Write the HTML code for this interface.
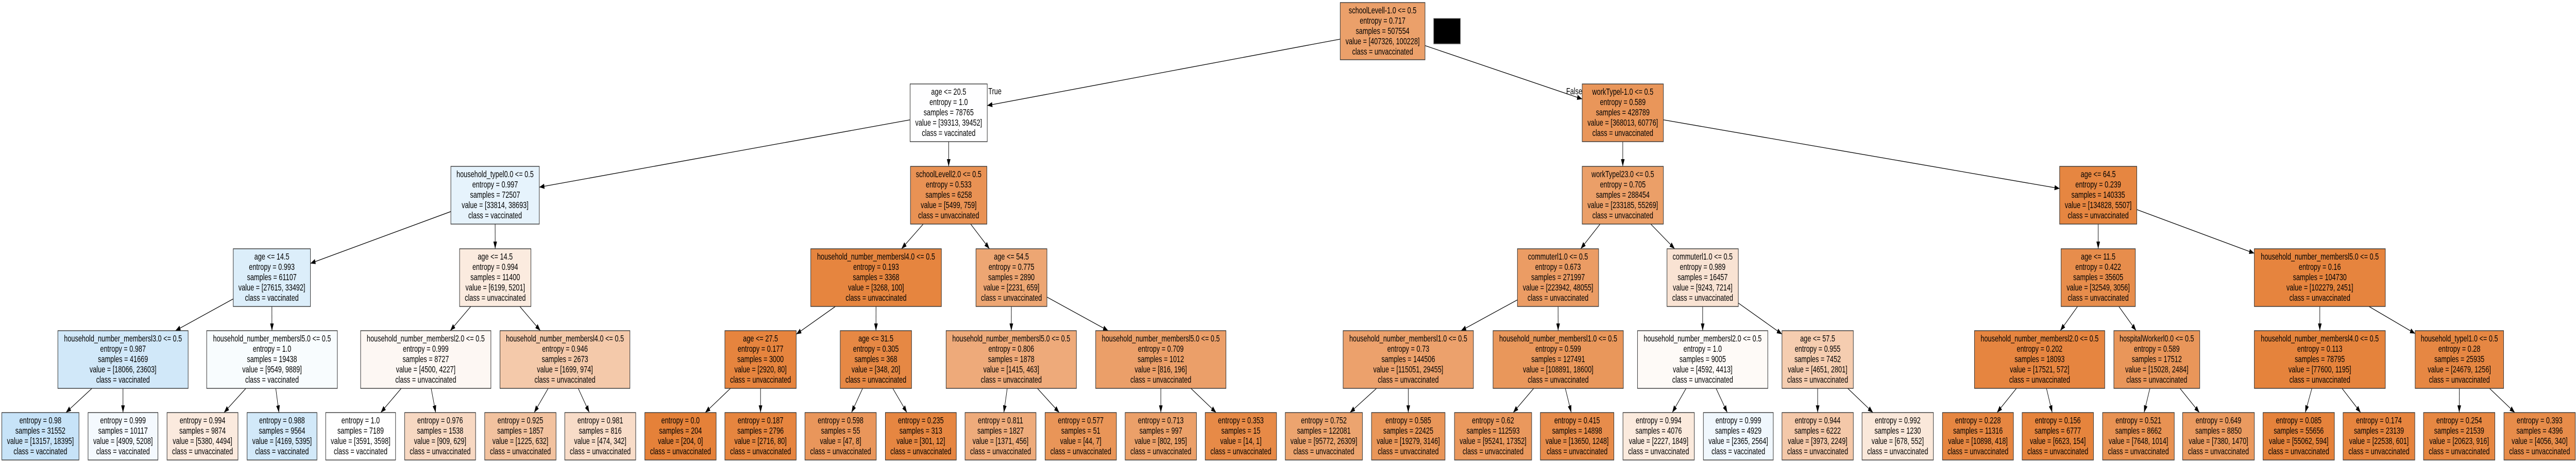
<!DOCTYPE html>
<html><head><meta charset="utf-8">
<style>
html,body{margin:0;padding:0;background:#fff;overflow:hidden;width:100%;height:100%;}
svg{display:block;width:100vw;height:100vh;}
rect{stroke:#333;stroke-width:1.4;}
text{font-family:"Liberation Sans",Arial,sans-serif;font-size:18px;fill:#000;text-anchor:middle;}
line{stroke:#000;stroke-width:1.3;}
</style></head>
<body>
<svg id="s" viewBox="0 0 7079 895" preserveAspectRatio="none" xmlns="http://www.w3.org/2000/svg">
<defs><marker id="ar" markerUnits="userSpaceOnUse" markerWidth="14" markerHeight="10" refX="14" refY="5" orient="auto"><path d="M0,0 L14,5 L0,10 z" fill="#000"/></marker></defs>
<g id="edges"></g>
<rect x="3940" y="36" width="73" height="49" fill="#000" style="stroke:#555"/>
<text x="2734" y="183">True</text>
<text x="4326" y="183">False</text>

<rect id="a" x="3683" y="5" width="233" height="111" fill="#eba06a"/>
<text x="3799.5" y="26"><tspan x="3799.5">schoolLevell-1.0 &lt;= 0.5</tspan><tspan x="3799.5" dy="20">entropy = 0.717</tspan><tspan x="3799.5" dy="20">samples = 507554</tspan><tspan x="3799.5" dy="20">value = [407326, 100228]</tspan><tspan x="3799.5" dy="20">class = unvaccinated</tspan></text>

<rect id="b" x="2501" y="163" width="212" height="112" fill="#fefeff"/>
<text x="2607" y="184"><tspan x="2607">age &lt;= 20.5</tspan><tspan x="2607" dy="20">entropy = 1.0</tspan><tspan x="2607" dy="20">samples = 78765</tspan><tspan x="2607" dy="20">value = [39313, 39452]</tspan><tspan x="2607" dy="20">class = vaccinated</tspan></text>
<rect id="c" x="4348" y="163" width="223" height="112" fill="#e9965a"/>
<text x="4459.5" y="184"><tspan x="4459.5">workTypel-1.0 &lt;= 0.5</tspan><tspan x="4459.5" dy="20">entropy = 0.589</tspan><tspan x="4459.5" dy="20">samples = 428789</tspan><tspan x="4459.5" dy="20">value = [368013, 60776]</tspan><tspan x="4459.5" dy="20">class = unvaccinated</tspan></text>

<rect id="d" x="1239" y="323" width="243" height="112" fill="#e6f3fc"/>
<text x="1360.5" y="344"><tspan x="1360.5">household_typel0.0 &lt;= 0.5</tspan><tspan x="1360.5" dy="20">entropy = 0.997</tspan><tspan x="1360.5" dy="20">samples = 72507</tspan><tspan x="1360.5" dy="20">value = [33814, 38693]</tspan><tspan x="1360.5" dy="20">class = vaccinated</tspan></text>
<rect id="e" x="2502" y="323" width="210" height="112" fill="#e99254"/>
<text x="2607" y="344"><tspan x="2607">schoolLevell2.0 &lt;= 0.5</tspan><tspan x="2607" dy="20">entropy = 0.533</tspan><tspan x="2607" dy="20">samples = 6258</tspan><tspan x="2607" dy="20">value = [5499, 759]</tspan><tspan x="2607" dy="20">class = unvaccinated</tspan></text>
<rect id="f" x="4348" y="323" width="223" height="112" fill="#eb9f68"/>
<text x="4459.5" y="344"><tspan x="4459.5">workTypel23.0 &lt;= 0.5</tspan><tspan x="4459.5" dy="20">entropy = 0.705</tspan><tspan x="4459.5" dy="20">samples = 288454</tspan><tspan x="4459.5" dy="20">value = [233185, 55269]</tspan><tspan x="4459.5" dy="20">class = unvaccinated</tspan></text>
<rect id="g" x="5660" y="323" width="212" height="112" fill="#e68641"/>
<text x="5766" y="344"><tspan x="5766">age &lt;= 64.5</tspan><tspan x="5766" dy="20">entropy = 0.239</tspan><tspan x="5766" dy="20">samples = 140335</tspan><tspan x="5766" dy="20">value = [134828, 5507]</tspan><tspan x="5766" dy="20">class = unvaccinated</tspan></text>

<rect id="h" x="641" y="483" width="212" height="112" fill="#dceefa"/>
<text x="747" y="504"><tspan x="747">age &lt;= 14.5</tspan><tspan x="747" dy="20">entropy = 0.993</tspan><tspan x="747" dy="20">samples = 61107</tspan><tspan x="747" dy="20">value = [27615, 33492]</tspan><tspan x="747" dy="20">class = vaccinated</tspan></text>
<rect id="i" x="1263" y="483" width="196" height="112" fill="#fbebdf"/>
<text x="1361" y="504"><tspan x="1361">age &lt;= 14.5</tspan><tspan x="1361" dy="20">entropy = 0.994</tspan><tspan x="1361" dy="20">samples = 11400</tspan><tspan x="1361" dy="20">value = [6199, 5201]</tspan><tspan x="1361" dy="20">class = unvaccinated</tspan></text>
<rect id="j" x="2228" y="483" width="359" height="112" fill="#e6853f"/>
<text x="2407.5" y="504"><tspan x="2407.5">household_number_membersl4.0 &lt;= 0.5</tspan><tspan x="2407.5" dy="20">entropy = 0.193</tspan><tspan x="2407.5" dy="20">samples = 3368</tspan><tspan x="2407.5" dy="20">value = [3268, 100]</tspan><tspan x="2407.5" dy="20">class = unvaccinated</tspan></text>
<rect id="k" x="2682" y="483" width="195" height="112" fill="#eda673"/>
<text x="2779.5" y="504"><tspan x="2779.5">age &lt;= 54.5</tspan><tspan x="2779.5" dy="20">entropy = 0.775</tspan><tspan x="2779.5" dy="20">samples = 2890</tspan><tspan x="2779.5" dy="20">value = [2231, 659]</tspan><tspan x="2779.5" dy="20">class = unvaccinated</tspan></text>
<rect id="l" x="4170" y="483" width="223" height="112" fill="#eb9c64"/>
<text x="4281.5" y="504"><tspan x="4281.5">commuterl1.0 &lt;= 0.5</tspan><tspan x="4281.5" dy="20">entropy = 0.673</tspan><tspan x="4281.5" dy="20">samples = 271997</tspan><tspan x="4281.5" dy="20">value = [223942, 48055]</tspan><tspan x="4281.5" dy="20">class = unvaccinated</tspan></text>
<rect id="m" x="4581" y="483" width="196" height="112" fill="#f9e3d3"/>
<text x="4679" y="504"><tspan x="4679">commuterl1.0 &lt;= 0.5</tspan><tspan x="4679" dy="20">entropy = 0.989</tspan><tspan x="4679" dy="20">samples = 16457</tspan><tspan x="4679" dy="20">value = [9243, 7214]</tspan><tspan x="4679" dy="20">class = unvaccinated</tspan></text>
<rect id="n" x="5664" y="483" width="204" height="112" fill="#e78d4c"/>
<text x="5766" y="504"><tspan x="5766">age &lt;= 11.5</tspan><tspan x="5766" dy="20">entropy = 0.422</tspan><tspan x="5766" dy="20">samples = 35605</tspan><tspan x="5766" dy="20">value = [32549, 3056]</tspan><tspan x="5766" dy="20">class = unvaccinated</tspan></text>
<rect id="o" x="6195" y="483" width="360" height="112" fill="#e6843e"/>
<text x="6375" y="504"><tspan x="6375">household_number_membersl5.0 &lt;= 0.5</tspan><tspan x="6375" dy="20">entropy = 0.16</tspan><tspan x="6375" dy="20">samples = 104730</tspan><tspan x="6375" dy="20">value = [102279, 2451]</tspan><tspan x="6375" dy="20">class = unvaccinated</tspan></text>

<rect id="p1" x="159" y="642" width="358" height="112" fill="#d1e8f9"/>
<text x="338" y="663"><tspan x="338">household_number_membersl3.0 &lt;= 0.5</tspan><tspan x="338" dy="20">entropy = 0.987</tspan><tspan x="338" dy="20">samples = 41669</tspan><tspan x="338" dy="20">value = [18066, 23603]</tspan><tspan x="338" dy="20">class = vaccinated</tspan></text>
<rect id="p2" x="568" y="642" width="359" height="112" fill="#f8fcfe"/>
<text x="747.5" y="663"><tspan x="747.5">household_number_membersl5.0 &lt;= 0.5</tspan><tspan x="747.5" dy="20">entropy = 1.0</tspan><tspan x="747.5" dy="20">samples = 19438</tspan><tspan x="747.5" dy="20">value = [9549, 9889]</tspan><tspan x="747.5" dy="20">class = vaccinated</tspan></text>
<rect id="p3" x="991" y="642" width="358" height="112" fill="#fdf7f3"/>
<text x="1170" y="663"><tspan x="1170">household_number_membersl2.0 &lt;= 0.5</tspan><tspan x="1170" dy="20">entropy = 0.999</tspan><tspan x="1170" dy="20">samples = 8727</tspan><tspan x="1170" dy="20">value = [4500, 4227]</tspan><tspan x="1170" dy="20">class = unvaccinated</tspan></text>
<rect id="p4" x="1374" y="642" width="357" height="112" fill="#f4c9aa"/>
<text x="1552.5" y="663"><tspan x="1552.5">household_number_membersl4.0 &lt;= 0.5</tspan><tspan x="1552.5" dy="20">entropy = 0.946</tspan><tspan x="1552.5" dy="20">samples = 2673</tspan><tspan x="1552.5" dy="20">value = [1699, 974]</tspan><tspan x="1552.5" dy="20">class = unvaccinated</tspan></text>
<rect id="p5" x="1992" y="642" width="196" height="112" fill="#e6843e"/>
<text x="2090" y="663"><tspan x="2090">age &lt;= 27.5</tspan><tspan x="2090" dy="20">entropy = 0.177</tspan><tspan x="2090" dy="20">samples = 3000</tspan><tspan x="2090" dy="20">value = [2920, 80]</tspan><tspan x="2090" dy="20">class = unvaccinated</tspan></text>
<rect id="p6" x="2309" y="642" width="196" height="112" fill="#e68844"/>
<text x="2407" y="663"><tspan x="2407">age &lt;= 31.5</tspan><tspan x="2407" dy="20">entropy = 0.305</tspan><tspan x="2407" dy="20">samples = 368</tspan><tspan x="2407" dy="20">value = [348, 20]</tspan><tspan x="2407" dy="20">class = unvaccinated</tspan></text>
<rect id="p7" x="2600" y="642" width="358" height="112" fill="#eeaa7a"/>
<text x="2779" y="663"><tspan x="2779">household_number_membersl5.0 &lt;= 0.5</tspan><tspan x="2779" dy="20">entropy = 0.806</tspan><tspan x="2779" dy="20">samples = 1878</tspan><tspan x="2779" dy="20">value = [1415, 463]</tspan><tspan x="2779" dy="20">class = unvaccinated</tspan></text>
<rect id="p8" x="3011" y="642" width="358" height="112" fill="#eb9f69"/>
<text x="3190" y="663"><tspan x="3190">household_number_membersl5.0 &lt;= 0.5</tspan><tspan x="3190" dy="20">entropy = 0.709</tspan><tspan x="3190" dy="20">samples = 1012</tspan><tspan x="3190" dy="20">value = [816, 196]</tspan><tspan x="3190" dy="20">class = unvaccinated</tspan></text>
<rect id="p9" x="3691" y="642" width="358" height="112" fill="#eca16c"/>
<text x="3870" y="663"><tspan x="3870">household_number_membersl1.0 &lt;= 0.5</tspan><tspan x="3870" dy="20">entropy = 0.73</tspan><tspan x="3870" dy="20">samples = 144506</tspan><tspan x="3870" dy="20">value = [115051, 29455]</tspan><tspan x="3870" dy="20">class = unvaccinated</tspan></text>
<rect id="p10" x="4103" y="642" width="358" height="112" fill="#e9975b"/>
<text x="4282" y="663"><tspan x="4282">household_number_membersl1.0 &lt;= 0.5</tspan><tspan x="4282" dy="20">entropy = 0.599</tspan><tspan x="4282" dy="20">samples = 127491</tspan><tspan x="4282" dy="20">value = [108891, 18600]</tspan><tspan x="4282" dy="20">class = unvaccinated</tspan></text>
<rect id="p11" x="4500" y="642" width="358" height="112" fill="#fefaf7"/>
<text x="4679" y="663"><tspan x="4679">household_number_membersl2.0 &lt;= 0.5</tspan><tspan x="4679" dy="20">entropy = 1.0</tspan><tspan x="4679" dy="20">samples = 9005</tspan><tspan x="4679" dy="20">value = [4592, 4413]</tspan><tspan x="4679" dy="20">class = unvaccinated</tspan></text>
<rect id="p12" x="4897" y="642" width="196" height="112" fill="#f5cdb0"/>
<text x="4995" y="663"><tspan x="4995">age &lt;= 57.5</tspan><tspan x="4995" dy="20">entropy = 0.955</tspan><tspan x="4995" dy="20">samples = 7452</tspan><tspan x="4995" dy="20">value = [4651, 2801]</tspan><tspan x="4995" dy="20">class = unvaccinated</tspan></text>
<rect id="p13" x="5426" y="642" width="358" height="112" fill="#e68540"/>
<text x="5605" y="663"><tspan x="5605">household_number_membersl2.0 &lt;= 0.5</tspan><tspan x="5605" dy="20">entropy = 0.202</tspan><tspan x="5605" dy="20">samples = 18093</tspan><tspan x="5605" dy="20">value = [17521, 572]</tspan><tspan x="5605" dy="20">class = unvaccinated</tspan></text>
<rect id="p14" x="5809" y="642" width="236" height="112" fill="#e9965a"/>
<text x="5927" y="663"><tspan x="5927">hospitalWorkerl0.0 &lt;= 0.5</tspan><tspan x="5927" dy="20">entropy = 0.589</tspan><tspan x="5927" dy="20">samples = 17512</tspan><tspan x="5927" dy="20">value = [15028, 2484]</tspan><tspan x="5927" dy="20">class = unvaccinated</tspan></text>
<rect id="p15" x="6195" y="642" width="360" height="112" fill="#e5833c"/>
<text x="6375" y="663"><tspan x="6375">household_number_membersl4.0 &lt;= 0.5</tspan><tspan x="6375" dy="20">entropy = 0.113</tspan><tspan x="6375" dy="20">samples = 78795</tspan><tspan x="6375" dy="20">value = [77600, 1195]</tspan><tspan x="6375" dy="20">class = unvaccinated</tspan></text>
<rect id="p16" x="6637" y="642" width="243" height="112" fill="#e68743"/>
<text x="6758.5" y="663"><tspan x="6758.5">household_typel1.0 &lt;= 0.5</tspan><tspan x="6758.5" dy="20">entropy = 0.28</tspan><tspan x="6758.5" dy="20">samples = 25935</tspan><tspan x="6758.5" dy="20">value = [24679, 1256]</tspan><tspan x="6758.5" dy="20">class = unvaccinated</tspan></text>

<rect id="q1" x="5" y="801" width="212" height="92" fill="#c7e3f8"/>
<text x="111" y="822"><tspan x="111">entropy = 0.98</tspan><tspan x="111" dy="20">samples = 31552</tspan><tspan x="111" dy="20">value = [13157, 18395]</tspan><tspan x="111" dy="20">class = vaccinated</tspan></text>
<rect id="q2" x="242" y="801" width="192" height="92" fill="#f4f9fe"/>
<text x="338" y="822"><tspan x="338">entropy = 0.999</tspan><tspan x="338" dy="20">samples = 10117</tspan><tspan x="338" dy="20">value = [4909, 5208]</tspan><tspan x="338" dy="20">class = vaccinated</tspan></text>
<rect id="q3" x="459" y="801" width="195" height="92" fill="#fbeade"/>
<text x="556.5" y="822"><tspan x="556.5">entropy = 0.994</tspan><tspan x="556.5" dy="20">samples = 9874</tspan><tspan x="556.5" dy="20">value = [5380, 4494]</tspan><tspan x="556.5" dy="20">class = unvaccinated</tspan></text>
<rect id="q4" x="679" y="801" width="192" height="92" fill="#d2e9f9"/>
<text x="775" y="822"><tspan x="775">entropy = 0.988</tspan><tspan x="775" dy="20">samples = 9564</tspan><tspan x="775" dy="20">value = [4169, 5395]</tspan><tspan x="775" dy="20">class = vaccinated</tspan></text>
<rect id="q5" x="895" y="801" width="192" height="92" fill="#ffffff"/>
<text x="991" y="822"><tspan x="991">entropy = 1.0</tspan><tspan x="991" dy="20">samples = 7189</tspan><tspan x="991" dy="20">value = [3591, 3598]</tspan><tspan x="991" dy="20">class = vaccinated</tspan></text>
<rect id="q6" x="1112" y="801" width="195" height="92" fill="#f7d8c2"/>
<text x="1209.5" y="822"><tspan x="1209.5">entropy = 0.976</tspan><tspan x="1209.5" dy="20">samples = 1538</tspan><tspan x="1209.5" dy="20">value = [909, 629]</tspan><tspan x="1209.5" dy="20">class = unvaccinated</tspan></text>
<rect id="q7" x="1332" y="801" width="196" height="92" fill="#f2c29f"/>
<text x="1430" y="822"><tspan x="1430">entropy = 0.925</tspan><tspan x="1430" dy="20">samples = 1857</tspan><tspan x="1430" dy="20">value = [1225, 632]</tspan><tspan x="1430" dy="20">class = unvaccinated</tspan></text>
<rect id="q8" x="1552" y="801" width="195" height="92" fill="#f8dcc8"/>
<text x="1649.5" y="822"><tspan x="1649.5">entropy = 0.981</tspan><tspan x="1649.5" dy="20">samples = 816</tspan><tspan x="1649.5" dy="20">value = [474, 342]</tspan><tspan x="1649.5" dy="20">class = unvaccinated</tspan></text>
<rect id="q9" x="1772" y="801" width="196" height="92" fill="#e58139"/>
<text x="1870" y="822"><tspan x="1870">entropy = 0.0</tspan><tspan x="1870" dy="20">samples = 204</tspan><tspan x="1870" dy="20">value = [204, 0]</tspan><tspan x="1870" dy="20">class = unvaccinated</tspan></text>
<rect id="q10" x="1992" y="801" width="196" height="92" fill="#e6853f"/>
<text x="2090" y="822"><tspan x="2090">entropy = 0.187</tspan><tspan x="2090" dy="20">samples = 2796</tspan><tspan x="2090" dy="20">value = [2716, 80]</tspan><tspan x="2090" dy="20">class = unvaccinated</tspan></text>
<rect id="q11" x="2212" y="801" width="196" height="92" fill="#e9965b"/>
<text x="2310" y="822"><tspan x="2310">entropy = 0.598</tspan><tspan x="2310" dy="20">samples = 55</tspan><tspan x="2310" dy="20">value = [47, 8]</tspan><tspan x="2310" dy="20">class = unvaccinated</tspan></text>
<rect id="q12" x="2433" y="801" width="195" height="92" fill="#e68641"/>
<text x="2530.5" y="822"><tspan x="2530.5">entropy = 0.235</tspan><tspan x="2530.5" dy="20">samples = 313</tspan><tspan x="2530.5" dy="20">value = [301, 12]</tspan><tspan x="2530.5" dy="20">class = unvaccinated</tspan></text>
<rect id="q13" x="2652" y="801" width="195" height="92" fill="#eeab7b"/>
<text x="2749.5" y="822"><tspan x="2749.5">entropy = 0.811</tspan><tspan x="2749.5" dy="20">samples = 1827</tspan><tspan x="2749.5" dy="20">value = [1371, 456]</tspan><tspan x="2749.5" dy="20">class = unvaccinated</tspan></text>
<rect id="q14" x="2872" y="801" width="196" height="92" fill="#e99558"/>
<text x="2970" y="822"><tspan x="2970">entropy = 0.577</tspan><tspan x="2970" dy="20">samples = 51</tspan><tspan x="2970" dy="20">value = [44, 7]</tspan><tspan x="2970" dy="20">class = unvaccinated</tspan></text>
<rect id="q15" x="3092" y="801" width="196" height="92" fill="#eba069"/>
<text x="3190" y="822"><tspan x="3190">entropy = 0.713</tspan><tspan x="3190" dy="20">samples = 997</tspan><tspan x="3190" dy="20">value = [802, 195]</tspan><tspan x="3190" dy="20">class = unvaccinated</tspan></text>
<rect id="q16" x="3312" y="801" width="196" height="92" fill="#e78a47"/>
<text x="3410" y="822"><tspan x="3410">entropy = 0.353</tspan><tspan x="3410" dy="20">samples = 15</tspan><tspan x="3410" dy="20">value = [14, 1]</tspan><tspan x="3410" dy="20">class = unvaccinated</tspan></text>
<rect id="q17" x="3532" y="801" width="212" height="92" fill="#eca46f"/>
<text x="3638" y="822"><tspan x="3638">entropy = 0.752</tspan><tspan x="3638" dy="20">samples = 122081</tspan><tspan x="3638" dy="20">value = [95772, 26309]</tspan><tspan x="3638" dy="20">class = unvaccinated</tspan></text>
<rect id="q18" x="3769" y="801" width="202" height="92" fill="#e99659"/>
<text x="3870" y="822"><tspan x="3870">entropy = 0.585</tspan><tspan x="3870" dy="20">samples = 22425</tspan><tspan x="3870" dy="20">value = [19279, 3146]</tspan><tspan x="3870" dy="20">class = unvaccinated</tspan></text>
<rect id="q19" x="3997" y="801" width="212" height="92" fill="#ea985d"/>
<text x="4103" y="822"><tspan x="4103">entropy = 0.62</tspan><tspan x="4103" dy="20">samples = 112593</tspan><tspan x="4103" dy="20">value = [95241, 17352]</tspan><tspan x="4103" dy="20">class = unvaccinated</tspan></text>
<rect id="q20" x="4233" y="801" width="202" height="92" fill="#e78c4b"/>
<text x="4334" y="822"><tspan x="4334">entropy = 0.415</tspan><tspan x="4334" dy="20">samples = 14898</tspan><tspan x="4334" dy="20">value = [13650, 1248]</tspan><tspan x="4334" dy="20">class = unvaccinated</tspan></text>
<rect id="q21" x="4460" y="801" width="196" height="92" fill="#fbeadd"/>
<text x="4558" y="822"><tspan x="4558">entropy = 0.994</tspan><tspan x="4558" dy="20">samples = 4076</tspan><tspan x="4558" dy="20">value = [2227, 1849]</tspan><tspan x="4558" dy="20">class = unvaccinated</tspan></text>
<rect id="q22" x="4681" y="801" width="192" height="92" fill="#f0f7fd"/>
<text x="4777" y="822"><tspan x="4777">entropy = 0.999</tspan><tspan x="4777" dy="20">samples = 4929</tspan><tspan x="4777" dy="20">value = [2365, 2564]</tspan><tspan x="4777" dy="20">class = vaccinated</tspan></text>
<rect id="q23" x="4897" y="801" width="196" height="92" fill="#f4c8a9"/>
<text x="4995" y="822"><tspan x="4995">entropy = 0.944</tspan><tspan x="4995" dy="20">samples = 6222</tspan><tspan x="4995" dy="20">value = [3973, 2249]</tspan><tspan x="4995" dy="20">class = unvaccinated</tspan></text>
<rect id="q24" x="5117" y="801" width="196" height="92" fill="#fae8da"/>
<text x="5215" y="822"><tspan x="5215">entropy = 0.992</tspan><tspan x="5215" dy="20">samples = 1230</tspan><tspan x="5215" dy="20">value = [678, 552]</tspan><tspan x="5215" dy="20">class = unvaccinated</tspan></text>
<rect id="q25" x="5338" y="801" width="195" height="92" fill="#e68641"/>
<text x="5435.5" y="822"><tspan x="5435.5">entropy = 0.228</tspan><tspan x="5435.5" dy="20">samples = 11316</tspan><tspan x="5435.5" dy="20">value = [10898, 418]</tspan><tspan x="5435.5" dy="20">class = unvaccinated</tspan></text>
<rect id="q26" x="5557" y="801" width="196" height="92" fill="#e6843d"/>
<text x="5655" y="822"><tspan x="5655">entropy = 0.156</tspan><tspan x="5655" dy="20">samples = 6777</tspan><tspan x="5655" dy="20">value = [6623, 154]</tspan><tspan x="5655" dy="20">class = unvaccinated</tspan></text>
<rect id="q27" x="5778" y="801" width="197" height="92" fill="#e89253"/>
<text x="5876.5" y="822"><tspan x="5876.5">entropy = 0.521</tspan><tspan x="5876.5" dy="20">samples = 8662</tspan><tspan x="5876.5" dy="20">value = [7648, 1014]</tspan><tspan x="5876.5" dy="20">class = unvaccinated</tspan></text>
<rect id="q28" x="5998" y="801" width="197" height="92" fill="#ea9a60"/>
<text x="6096.5" y="822"><tspan x="6096.5">entropy = 0.649</tspan><tspan x="6096.5" dy="20">samples = 8850</tspan><tspan x="6096.5" dy="20">value = [7380, 1470]</tspan><tspan x="6096.5" dy="20">class = unvaccinated</tspan></text>
<rect id="q29" x="6219" y="801" width="196" height="92" fill="#e5823b"/>
<text x="6317" y="822"><tspan x="6317">entropy = 0.085</tspan><tspan x="6317" dy="20">samples = 55656</tspan><tspan x="6317" dy="20">value = [55062, 594]</tspan><tspan x="6317" dy="20">class = unvaccinated</tspan></text>
<rect id="q30" x="6439" y="801" width="197" height="92" fill="#e6843e"/>
<text x="6537.5" y="822"><tspan x="6537.5">entropy = 0.174</tspan><tspan x="6537.5" dy="20">samples = 23139</tspan><tspan x="6537.5" dy="20">value = [22538, 601]</tspan><tspan x="6537.5" dy="20">class = unvaccinated</tspan></text>
<rect id="q31" x="6660" y="801" width="196" height="92" fill="#e68742"/>
<text x="6758" y="822"><tspan x="6758">entropy = 0.254</tspan><tspan x="6758" dy="20">samples = 21539</tspan><tspan x="6758" dy="20">value = [20623, 916]</tspan><tspan x="6758" dy="20">class = unvaccinated</tspan></text>
<rect id="q32" x="6881" y="801" width="196" height="92" fill="#e78c4a"/>
<text x="6979" y="822"><tspan x="6979">entropy = 0.393</tspan><tspan x="6979" dy="20">samples = 4396</tspan><tspan x="6979" dy="20">value = [4056, 340]</tspan><tspan x="6979" dy="20">class = unvaccinated</tspan></text>
</svg>
<script>
(function(){
var E=[["a","b"],["a","c"],["b","d"],["b","e"],["c","f"],["c","g"],
["d","h"],["d","i"],["e","j"],["e","k"],["f","l"],["f","m"],["g","n"],["g","o"],
["h","p1"],["h","p2"],["i","p3"],["i","p4"],["j","p5"],["j","p6"],["k","p7"],["k","p8"],
["l","p9"],["l","p10"],["m","p11"],["m","p12"],["n","p13"],["n","p14"],["o","p15"],["o","p16"]];
for(var i=1;i<=16;i++){E.push(["p"+i,"q"+(2*i-1)]);E.push(["p"+i,"q"+(2*i)]);}
function R(id){var r=document.getElementById(id);var x=+r.getAttribute("x"),y=+r.getAttribute("y"),w=+r.getAttribute("width"),h=+r.getAttribute("height");return {cx:x+w/2,cy:y+h/2,hw:w/2,hh:h/2};}
function T(r,vx,vy){var a=vx?r.hw/Math.abs(vx):1e9,b=vy?r.hh/Math.abs(vy):1e9;return Math.min(a,b);}
var g=document.getElementById("edges"),ns="http://www.w3.org/2000/svg";
E.forEach(function(e){var p=R(e[0]),c=R(e[1]);var vx=c.cx-p.cx,vy=c.cy-p.cy;
var tp=T(p,vx,vy),tc=T(c,vx,vy);
var l=document.createElementNS(ns,"line");
l.setAttribute("x1",p.cx+tp*vx);l.setAttribute("y1",p.cy+tp*vy);
l.setAttribute("x2",c.cx-tc*vx);l.setAttribute("y2",c.cy-tc*vy);
l.setAttribute("marker-end","url(#ar)");g.appendChild(l);});
})();
</script>
</body></html>
